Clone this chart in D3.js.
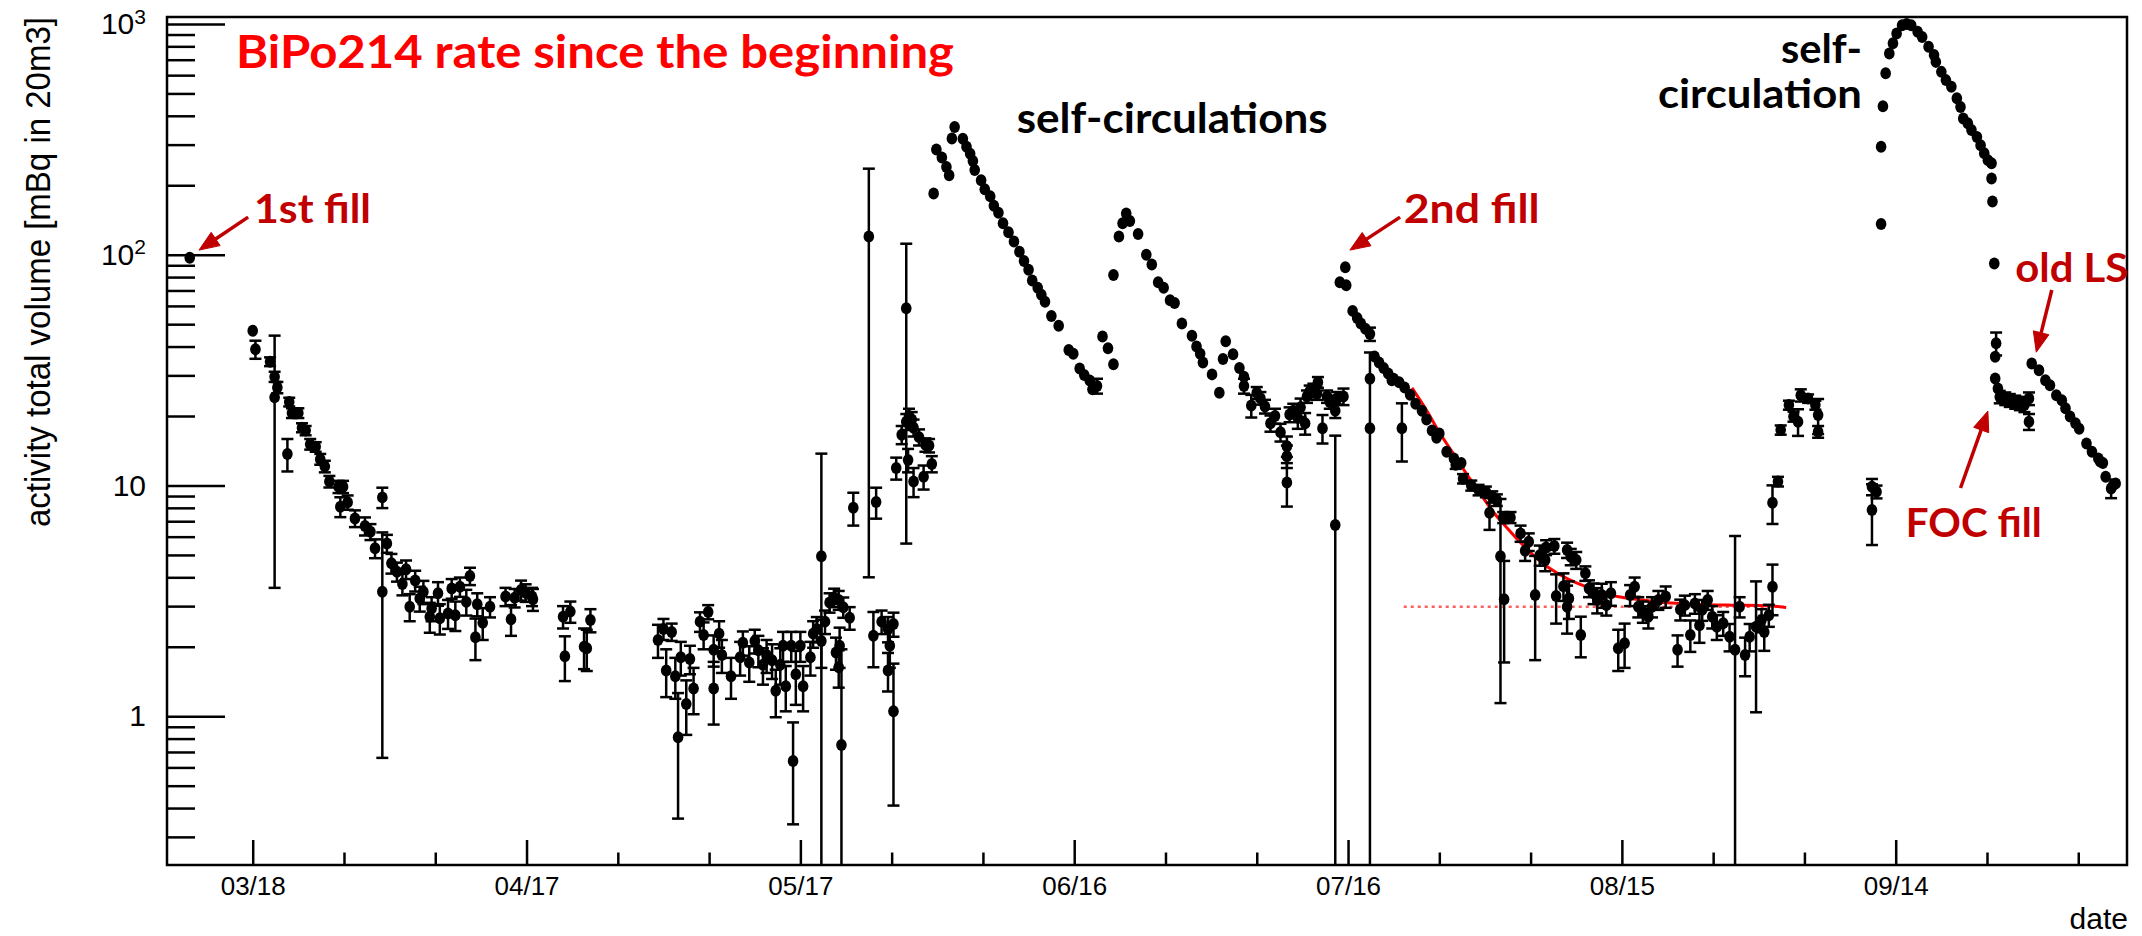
<!DOCTYPE html>
<html>
<head>
<meta charset="utf-8">
<script src="https://cdn.jsdelivr.net/npm/d3@7"></script>
<style>
  html, body { margin: 0; padding: 0; background: #fff; }
  svg { display: block; }
</style>
</head>
<body>
<div id="chart"></div>
<script>
// x = days counted from 03/18, rate = activity in mBq (20 m3), err = +- error
const firstFill = [[-6.9, 97, 0]];

const decayMarch = [
  [0.0, 46.8, 0], [0.3, 38.9, 3.5], [1.9, 34.4, 1.5], [2.4, 29.6, 1.5], [2.7, 26.6, 1.5],
  [2.4, 24.1, 20.5], [3.8, 13.7, 2.2], [4.0, 23.0, 1], [4.3, 20.6, 1], [5.0, 20.6, 1],
  [5.4, 17.8, 0.8], [5.8, 17.3, 0.8], [6.3, 15.1, 0.8], [6.9, 14.7, 0.7], [7.4, 13.0, 0.7],
  [7.9, 12.1, 0.7], [8.4, 10.4, 0.6], [9.4, 9.87, 0.6], [9.9, 9.87, 0.6], [9.6, 8.09, 0.8],
  [10.4, 8.45, 0.6], [11.2, 7.2, 0.6], [12.3, 6.67, 0.6], [12.9, 6.3, 0.5], [13.4, 5.34, 0.5],
  [14.7, 5.61, 0.5], [14.2, 8.88, 0.9], [14.2, 3.46, 2.8], [15.2, 4.6, 0.45], [15.8, 4.23, 0.4],
  [16.8, 4.33, 0.4], [16.4, 3.74, 0.4], [17.8, 3.87, 0.4], [17.2, 2.98, 0.4], [18.7, 3.46, 0.4],
  [18.3, 3.24, 0.4], [19.4, 2.70, 0.4], [19.6, 2.93, 0.35], [20.3, 3.41, 0.4], [20.5, 2.66, 0.4],
  [21.4, 2.79, 0.4], [21.8, 3.58, 0.35], [22.2, 2.74, 0.4], [22.7, 3.64, 0.35], [23.4, 3.13, 0.4],
  [23.8, 4.05, 0.35], [24.4, 2.20, 0.45], [24.6, 3.06, 0.35], [25.2, 2.54, 0.4], [26.0, 2.98, 0.3],
  [27.7, 3.30, 0.3], [28.3, 2.63, 0.4], [28.7, 3.26, 0.3], [29.4, 3.52, 0.35], [29.9, 3.43, 0.3],
  [30.6, 3.30, 0.3], [30.7, 3.21, 0.35], [34.0, 2.70, 0.3], [34.2, 1.82, 0.4], [34.8, 2.84, 0.3],
  [36.3, 2.00, 0.4], [36.6, 1.97, 0.4], [37.0, 2.61, 0.3]
];

const mayCluster = [
  [44.4, 2.14, 0.35], [45.0, 2.39, 0.25], [45.3, 1.58, 0.37], [45.9, 2.32, 0.2], [46.3, 1.49, 0.3],
  [46.6, 0.81, 0.45], [46.9, 1.80, 0.3], [47.5, 1.13, 0.3], [47.9, 1.77, 0.25], [48.3, 1.32, 0.3],
  [49.0, 2.57, 0.25], [49.4, 2.25, 0.3], [49.9, 2.83, 0.2], [50.5, 1.94, 0.3], [50.5, 1.32, 0.4],
  [51.1, 2.28, 0.3], [51.4, 1.84, 0.3], [52.4, 1.49, 0.3], [53.4, 1.80, 0.3], [53.7, 2.08, 0.25],
  [54.4, 1.71, 0.3], [55.0, 2.12, 0.25], [55.4, 1.93, 0.3], [55.9, 1.67, 0.3], [56.3, 1.84, 0.3],
  [56.9, 1.75, 0.3], [57.3, 1.29, 0.3], [57.8, 1.67, 0.3], [58.1, 2.02, 0.3], [58.4, 1.35, 0.3],
  [59.0, 2.02, 0.3], [59.2, 0.64, 0.3], [59.5, 1.52, 0.4], [60.0, 2.02, 0.3], [60.3, 1.35, 0.3],
  [61.1, 1.80, 0.3], [61.4, 2.28, 0.3], [61.8, 2.39, 0.3], [62.3, 2.12, 0.5], [62.3, 4.94, 8.8],
  [62.7, 2.57, 0.3], [63.2, 3.11, 0.3], [63.7, 3.27, 0.3], [63.9, 1.89, 0.3], [64.2, 3.19, 0.3],
  [64.2, 1.63, 0.3], [64.3, 2.02, 0.4], [64.5, 0.75, 1.2], [64.7, 2.97, 0.3], [65.4, 2.67, 0.3],
  [65.8, 8.0, 1.3], [67.5, 120, 116], [68.0, 2.23, 0.6], [68.3, 8.48, 1.3], [68.9, 2.57, 0.3],
  [69.6, 2.39, 0.3], [69.6, 1.58, 0.3], [69.8, 2.02, 0.4], [70.2, 2.51, 0.3], [70.2, 1.05, 0.64],
  [70.5, 11.9, 1.3], [71.1, 16.6, 1.5], [71.6, 18.9, 1.5], [71.6, 58.6, 53], [71.8, 12.9, 1.5],
  [71.9, 20.0, 1.5], [72.2, 19.3, 1.5], [72.4, 17.8, 1.5], [72.4, 10.4, 1.5], [73.0, 16.2, 1.3],
  [73.5, 10.9, 1.3], [73.7, 15.0, 1.0], [74.1, 14.9, 1.0], [74.4, 12.4, 1.0]
];

const selfCirc1 = [
  [74.6, 184, 0], [74.9, 286, 0], [75.5, 264, 0], [76.0, 240, 0], [76.3, 221, 0],
  [76.6, 319, 0], [76.9, 358, 0], [77.8, 318, 0], [78.2, 294, 0], [78.6, 274, 0],
  [78.9, 255, 0], [79.1, 233, 0], [79.8, 210, 0], [80.2, 192, 0], [80.8, 179, 0],
  [81.2, 163, 0], [81.7, 152, 0], [82.2, 137, 0], [82.8, 125, 0], [83.4, 114, 0],
  [84.0, 103, 0], [84.5, 94, 0], [85.0, 86, 0], [85.4, 77.3, 0], [86.0, 72, 0],
  [86.4, 67.1, 0], [86.8, 62.5, 0], [87.5, 54.2, 0], [88.3, 49.2, 0], [89.4, 38.6, 0],
  [89.9, 37.2, 0], [90.6, 32.1, 0], [91.1, 30.1, 0], [91.7, 28.5, 0], [92.0, 26.1, 0],
  [92.5, 27.0, 2], [93.1, 44.2, 0], [93.7, 39.3, 0], [94.3, 33.5, 0], [94.3, 81.6, 0]
];

const selfCirc2 = [
  [94.9, 120, 0], [95.3, 137, 0], [95.7, 151, 0], [96.1, 140, 0], [97.0, 123, 0],
  [97.9, 100, 0], [98.5, 90.7, 0], [99.2, 76, 0], [99.8, 72, 0], [100.5, 63.5, 0],
  [101.0, 61.8, 0], [101.8, 50.4, 0], [102.9, 44.5, 0], [103.4, 40.0, 0], [103.8, 37.2, 0],
  [104.1, 34.1, 0], [105.1, 30.3, 0], [105.9, 25.2, 0], [106.3, 35.3, 0], [106.6, 42.2, 0],
  [107.4, 37.0, 0], [108.1, 32.3, 0], [108.6, 29.6, 0], [108.6, 27.0, 2], [109.4, 22.2, 2.5],
  [110.0, 25.2, 1.5], [110.4, 23.9, 1.5], [110.9, 22.0, 1.5], [111.5, 18.6, 1.5], [112.0, 20.0, 1.5],
  [112.6, 17.0, 1.5], [113.3, 14.8, 1.5], [113.3, 13.4, 1.5], [113.3, 10.3, 2.2], [113.6, 20.3, 1.5],
  [114.0, 21.1, 1.5], [114.5, 19.6, 2], [114.8, 21.8, 2], [115.3, 18.6, 2], [115.5, 24.3, 1.5],
  [115.8, 25.6, 1.5], [116.2, 26.1, 1.5], [116.6, 25.0, 1.5], [116.7, 28.0, 1.5], [117.2, 17.7, 2.5],
  [117.7, 24.3, 1.5], [118.0, 23.0, 1.5], [118.6, 21.1, 1.5], [118.6, 6.74, 9.7], [118.8, 23.9, 1.5],
  [119.5, 24.3, 2]
];

const secondFill = [
  [119.1, 76, 0], [119.7, 88.3, 0], [119.8, 73.8, 0], [120.5, 57.1, 0], [121.0, 53.2, 0],
  [121.4, 50.4, 0], [121.9, 47.8, 0], [122.4, 45.3, 3], [122.4, 29.0, 0], [122.4, 17.7, 20],
  [122.9, 36.2, 0], [123.4, 34.1, 0], [123.9, 32.3, 0], [124.4, 30.6, 0], [124.8, 28.6, 0],
  [125.0, 29.0, 0], [125.6, 28.0, 0], [125.9, 17.7, 5], [126.2, 26.6, 0], [126.8, 24.7, 0],
  [127.4, 22.6, 0], [128.1, 21.1, 0], [128.6, 19.3, 0], [129.2, 17.3, 0], [129.7, 16.1, 0],
  [130.0, 16.8, 0], [130.8, 14.0, 0], [131.6, 13.1, 0], [131.8, 12.3, 0.5], [132.4, 12.5, 0],
  [132.6, 10.7, 0.5], [133.5, 10.0, 0.5], [134.3, 9.56, 0.5], [135.1, 9.39, 0.5], [135.5, 7.62, 1.2],
  [135.8, 8.93, 0.5], [136.3, 8.65, 0.5], [136.7, 4.94, 3.8], [137.0, 7.27, 0.4], [137.1, 3.21, 1.5],
  [137.8, 7.27, 0.4], [138.9, 6.2, 0.5], [139.4, 5.21, 0.5], [139.8, 5.7, 0.5], [140.5, 3.35, 1.6],
  [141.0, 4.99, 0.5], [141.6, 4.75, 0.5], [141.7, 5.39, 0.4], [142.6, 5.46, 0.4], [142.8, 3.32, 0.8],
  [143.6, 3.66, 0.5], [144.0, 2.98, 0.7], [144.0, 5.25, 0.4], [144.2, 3.24, 0.6], [144.4, 4.91, 0.4],
  [145.0, 4.75, 0.4], [145.5, 2.25, 0.45], [146.0, 4.16, 0.3], [146.4, 3.58, 0.3], [146.9, 3.41, 0.35],
  [147.3, 3.19, 0.4], [147.8, 3.35, 0.4], [148.3, 3.03, 0.3], [148.8, 3.41, 0.4], [149.6, 1.97, 0.4],
  [150.3, 2.07, 0.45], [150.9, 3.35, 0.35], [151.4, 3.64, 0.35], [151.8, 2.98, 0.3], [152.3, 2.84, 0.3],
  [152.9, 2.70, 0.3], [153.3, 2.98, 0.3], [154.0, 3.19, 0.3], [154.8, 3.30, 0.35], [156.1, 1.94, 0.3],
  [156.4, 2.90, 0.3], [156.9, 3.03, 0.3], [157.5, 2.25, 0.35], [158.0, 3.08, 0.3], [158.5, 2.48, 0.4],
  [158.8, 2.89, 0.3], [159.4, 3.19, 0.3], [159.9, 2.70, 0.3], [160.4, 2.44, 0.3], [161.1, 2.53, 0.3],
  [161.8, 2.21, 0.3], [162.4, 1.94, 4.1], [162.9, 2.98, 0.3], [163.5, 1.84, 0.35], [164.0, 2.21, 0.3],
  [164.7, 2.44, 1.4], [165.3, 2.61, 0.3], [165.6, 2.32, 0.4], [166.1, 2.74, 0.3], [166.5, 3.64, 0.9],
  [166.5, 8.41, 1.6], [167.1, 10.4, 0.5]
];

const earlySep = [
  [167.4, 17.4, 0.8], [168.3, 22.3, 1], [168.8, 19.9, 1], [169.3, 18.9, 2.5], [169.6, 24.6, 1.5],
  [170.4, 23.8, 1], [171.2, 22.3, 1], [171.5, 20.2, 3.5], [171.5, 17.1, 1],
  [177.4, 9.87, 0.8], [177.9, 9.39, 0.6], [177.4, 7.82, 2.3]
];

const selfCirc3 = [
  [178.4, 136, 0], [178.4, 294, 0], [178.6, 440, 0], [178.9, 611, 0], [179.3, 745, 0],
  [179.7, 824, 0], [180.1, 910, 0], [180.7, 988, 0], [181.2, 1000, 0], [181.7, 988, 0],
  [182.4, 925, 0], [182.9, 879, 0], [183.6, 796, 0], [184.2, 733, 0], [184.4, 685, 0],
  [185.0, 620, 0], [185.5, 571, 0], [186.1, 534, 0], [186.7, 476, 0], [187.1, 437, 0],
  [187.4, 389, 0], [187.9, 371, 0], [188.3, 347, 0], [188.9, 324, 0], [189.3, 298, 0],
  [189.7, 275, 0], [190.1, 257, 0], [190.5, 249, 0], [190.5, 214, 0], [190.6, 170, 0],
  [190.8, 91.7, 0]
];

const focAndOldLS = [
  [191.0, 41.3, 4.7], [190.9, 36.1, 0], [190.9, 29.1, 0], [191.2, 26.3, 0], [191.4, 24.2, 1.5],
  [192.0, 23.8, 1.5], [192.5, 23.4, 1.5], [193.1, 23.0, 1.5], [193.6, 22.7, 1.5], [194.1, 22.3, 1.5],
  [194.6, 23.8, 1.5], [194.6, 18.9, 1.5], [194.9, 33.8, 0], [195.7, 31.6, 0], [196.4, 28.6, 0],
  [196.9, 27.2, 0], [197.6, 24.6, 0], [198.2, 23.4, 0], [198.6, 21.6, 0], [199.1, 19.9, 0],
  [199.7, 18.6, 0], [200.1, 17.6, 0], [200.9, 15.2, 0], [201.5, 14.0, 0], [202.2, 13.1, 0],
  [202.4, 12.7, 0], [202.7, 12.5, 0], [203.0, 10.9, 0], [203.6, 9.71, 0.9], [203.8, 10.0, 0],
  [204.1, 10.2, 0]
];

// fit of the 2nd fill decay
const fitDays = [127, 128.5, 130, 131.5, 133, 134.5, 136, 137.5, 139, 140.5, 142, 144, 146, 148, 150, 152, 155, 158, 162, 166, 168];
const fitRates = [26.5, 21.5, 17.0, 13.8, 11.2, 9.2, 7.6, 6.5, 5.6, 4.9, 4.4, 3.95, 3.65, 3.4, 3.28, 3.2, 3.1, 3.06, 3.03, 3.01, 2.96];
const plateauDays = [126.1, 167.7];
const plateauRate = 2.98;

const xTickDays = [0, 30, 60, 90, 120, 150, 180];
const xTickLabels = ["03/18", "04/17", "05/17", "06/16", "07/16", "08/15", "09/14"];
const yTickValues = [1, 10, 100, 1000];
const yTickLabels = [["1", ""], ["10", ""], ["10", "2"], ["10", "3"]];

const width = 2142;
const height = 936;
const frame = { left: 167, right: 2127, top: 17, bottom: 865 };

const base = Date.UTC(2025, 2, 18);
const day = d => new Date(base + d * 864e5);

const x = d3.scaleUtc()
  .domain([day(-9.39), day(205.34)])
  .range([frame.left, frame.right]);
const y = d3.scaleLog()
  .domain([0.2266, 1072])
  .range([frame.bottom, frame.top]);

const svg = d3.select("#chart").append("svg")
  .attr("width", width)
  .attr("height", height)
  .style("background", "#fff");

svg.append("defs").append("clipPath").attr("id", "clip")
  .append("rect")
    .attr("x", frame.left).attr("y", frame.top)
    .attr("width", frame.right - frame.left)
    .attr("height", frame.bottom - frame.top);

const axisFont = '"Liberation Sans", Arial, Helvetica, sans-serif';

// x axis, ticks pointing into the frame
const minorDays = d3.range(10, 206, 10).filter(d => d % 30 !== 0);
svg.append("g")
  .attr("transform", `translate(0,${frame.bottom})`)
  .call(d3.axisBottom(x).tickValues(minorDays.map(day)).tickFormat("").tickSizeInner(-12.5).tickSizeOuter(0))
  .call(g => g.select(".domain").remove())
  .call(g => g.selectAll("line").attr("stroke-width", 2.5));

svg.append("g")
  .attr("transform", `translate(0,${frame.bottom})`)
  .call(d3.axisBottom(x)
    .tickValues(xTickDays.map(day))
    .tickFormat((d, i) => xTickLabels[i])
    .tickSizeInner(-25).tickSizeOuter(0).tickPadding(11.5))
  .attr("font-family", axisFont)
  .attr("font-size", 26)
  .call(g => g.select(".domain").remove())
  .call(g => g.selectAll("line").attr("stroke-width", 2.5));

// y axis (log), long major ticks and short minor ones
const yMinor = [0.1, 1, 10, 100]
  .flatMap(b => d3.range(2, 10).map(k => k * b))
  .filter(v => v > 0.2266 && v < 1072);

svg.append("g")
  .attr("transform", `translate(${frame.left},0)`)
  .call(d3.axisLeft(y).tickValues(yMinor).tickFormat("").tickSizeInner(-28).tickSizeOuter(0))
  .call(g => g.select(".domain").remove())
  .call(g => g.selectAll("line").attr("stroke-width", 2.5));

svg.append("g")
  .attr("transform", `translate(${frame.left},0)`)
  .call(d3.axisLeft(y).tickValues(yTickValues).tickSizeInner(-58).tickSizeOuter(0).tickPadding(21))
  .attr("font-family", axisFont)
  .attr("font-size", 30)
  .call(g => g.select(".domain").remove())
  .call(g => g.selectAll("line").attr("stroke-width", 2.5))
  .call(g => g.selectAll(".tick text").each(function(d, i) {
    const t = d3.select(this).text(yTickLabels[i][0]);
    if (yTickLabels[i][1]) {
      t.append("tspan").attr("dy", "-0.5em").attr("font-size", 21).text(yTickLabels[i][1]);
    }
  }));

// frame
svg.append("rect")
  .attr("x", frame.left).attr("y", frame.top)
  .attr("width", frame.right - frame.left)
  .attr("height", frame.bottom - frame.top)
  .attr("fill", "none")
  .attr("stroke", "#000")
  .attr("stroke-width", 2.5);

// axis titles
svg.append("text")
  .attr("transform", "translate(50,272) rotate(-90)")
  .attr("text-anchor", "middle")
  .attr("font-family", axisFont)
  .attr("font-size", 35)
  .attr("textLength", 510)
  .attr("lengthAdjust", "spacingAndGlyphs")
  .text("activity total volume [mBq in 20m3]");

svg.append("text")
  .attr("x", 2128).attr("y", 929)
  .attr("text-anchor", "end")
  .attr("font-family", axisFont)
  .attr("font-size", 30)
  .text("date");

const plot = svg.append("g").attr("clip-path", "url(#clip)");

// fit: dotted constant and the solid decay curve
plot.append("line")
  .attr("x1", x(day(plateauDays[0]))).attr("x2", x(day(plateauDays[1])))
  .attr("y1", y(plateauRate)).attr("y2", y(plateauRate))
  .attr("stroke", "#ff5c5c")
  .attr("stroke-width", 2.5)
  .attr("stroke-dasharray", "3,4");

const fitLine = d3.line()
  .x(d => x(day(d[0])))
  .y(d => y(d[1]))
  .curve(d3.curveMonotoneX);

plot.append("path")
  .datum(d3.zip(fitDays, fitRates))
  .attr("d", fitLine)
  .attr("fill", "none")
  .attr("stroke", "#ff0000")
  .attr("stroke-width", 3);

// data points with error bars
const points = [firstFill, decayMarch, mayCluster, selfCirc1, selfCirc2, secondFill, earlySep, selfCirc3, focAndOldLS].flat();
const ymin = y.domain()[0];
const cap = 6;

const bars = plot.append("g")
  .attr("stroke", "#000")
  .attr("stroke-width", 2.5)
  .selectAll("g")
  .data(points.filter(p => p[2] > 0))
  .join("g");

bars.append("line")
  .attr("x1", p => x(day(p[0]))).attr("x2", p => x(day(p[0])))
  .attr("y1", p => y(p[1] + p[2]))
  .attr("y2", p => p[1] - p[2] > ymin ? y(p[1] - p[2]) : frame.bottom + 5);

bars.append("line")
  .attr("x1", p => x(day(p[0])) - cap).attr("x2", p => x(day(p[0])) + cap)
  .attr("y1", p => y(p[1] + p[2])).attr("y2", p => y(p[1] + p[2]));

bars.filter(p => p[1] - p[2] > ymin).append("line")
  .attr("x1", p => x(day(p[0])) - cap).attr("x2", p => x(day(p[0])) + cap)
  .attr("y1", p => y(p[1] - p[2])).attr("y2", p => y(p[1] - p[2]));

// ROOT markers come out slightly taller than wide in the picture
plot.append("g")
  .selectAll("ellipse")
  .data(points)
  .join("ellipse")
    .attr("cx", p => x(day(p[0])))
    .attr("cy", p => y(p[1]))
    .attr("rx", 5.3)
    .attr("ry", 6)
    .attr("fill", "#000");

// annotations, anchored in data coordinates
const noteFont = 'Lato, "Open Sans", "Noto Sans", sans-serif';
const notes = [
  { text: "BiPo214 rate since the beginning", d: -1.83, v: 643, anchor: "start", len: 718, size: 46, color: "#ff0000" },
  { text: "1st fill", d: 0.14, v: 137, anchor: "start", len: 117, size: 40, color: "#c00000" },
  { text: "self-circulations", d: 83.7, v: 336, anchor: "start", len: 311, size: 42, color: "#000" },
  { text: "2nd fill", d: 126.1, v: 137, anchor: "start", len: 136, size: 40, color: "#c00000" },
  { text: "self-", d: 176.3, v: 676, anchor: "end", len: 81, size: 40, color: "#000" },
  { text: "circulation", d: 176.3, v: 432, anchor: "end", len: 204, size: 40, color: "#000" },
  { text: "old LS", d: 193.1, v: 76.1, anchor: "start", len: 113, size: 40, color: "#c00000" },
  { text: "FOC fill", d: 181.1, v: 5.98, anchor: "start", len: 136, size: 40, color: "#c00000" }
];

svg.append("g")
  .selectAll("text")
  .data(notes)
  .join("text")
    .attr("x", n => x(day(n.d)))
    .attr("y", n => y(n.v))
    .attr("text-anchor", n => n.anchor)
    .attr("font-family", noteFont)
    .attr("font-weight", 700)
    .attr("font-size", n => n.size)
    .attr("fill", n => n.color)
    .attr("textLength", n => n.len)
    .attr("lengthAdjust", "spacingAndGlyphs")
    .text(n => n.text);

const arrows = [
  { from: [-0.5, 145.5], to: [-5.88, 104.7] },
  { from: [125.7, 145.5], to: [120.2, 104.7] },
  { from: [197.1, 70.3], to: [195.4, 37.8] },
  { from: [187.1, 9.75], to: [190.1, 21.0] }
];

function drawArrow(a) {
  const x0 = x(day(a.from[0])), y0 = y(a.from[1]);
  const x1 = x(day(a.to[0])), y1 = y(a.to[1]);
  const ang = Math.atan2(y1 - y0, x1 - x0);
  const len = 20, half = 8;
  const bx = x1 - len * Math.cos(ang), by = y1 - len * Math.sin(ang);
  const g = svg.append("g").attr("fill", "#c00000").attr("stroke", "#c00000");
  g.append("line")
    .attr("x1", x0).attr("y1", y0).attr("x2", bx).attr("y2", by)
    .attr("stroke-width", 3.5);
  g.append("polygon")
    .attr("stroke-width", 1)
    .attr("points", [
      [x1, y1],
      [bx + half * Math.sin(ang), by - half * Math.cos(ang)],
      [bx - half * Math.sin(ang), by + half * Math.cos(ang)]
    ].map(p => p.join(",")).join(" "));
}
arrows.forEach(drawArrow);
</script>
</body>
</html>
